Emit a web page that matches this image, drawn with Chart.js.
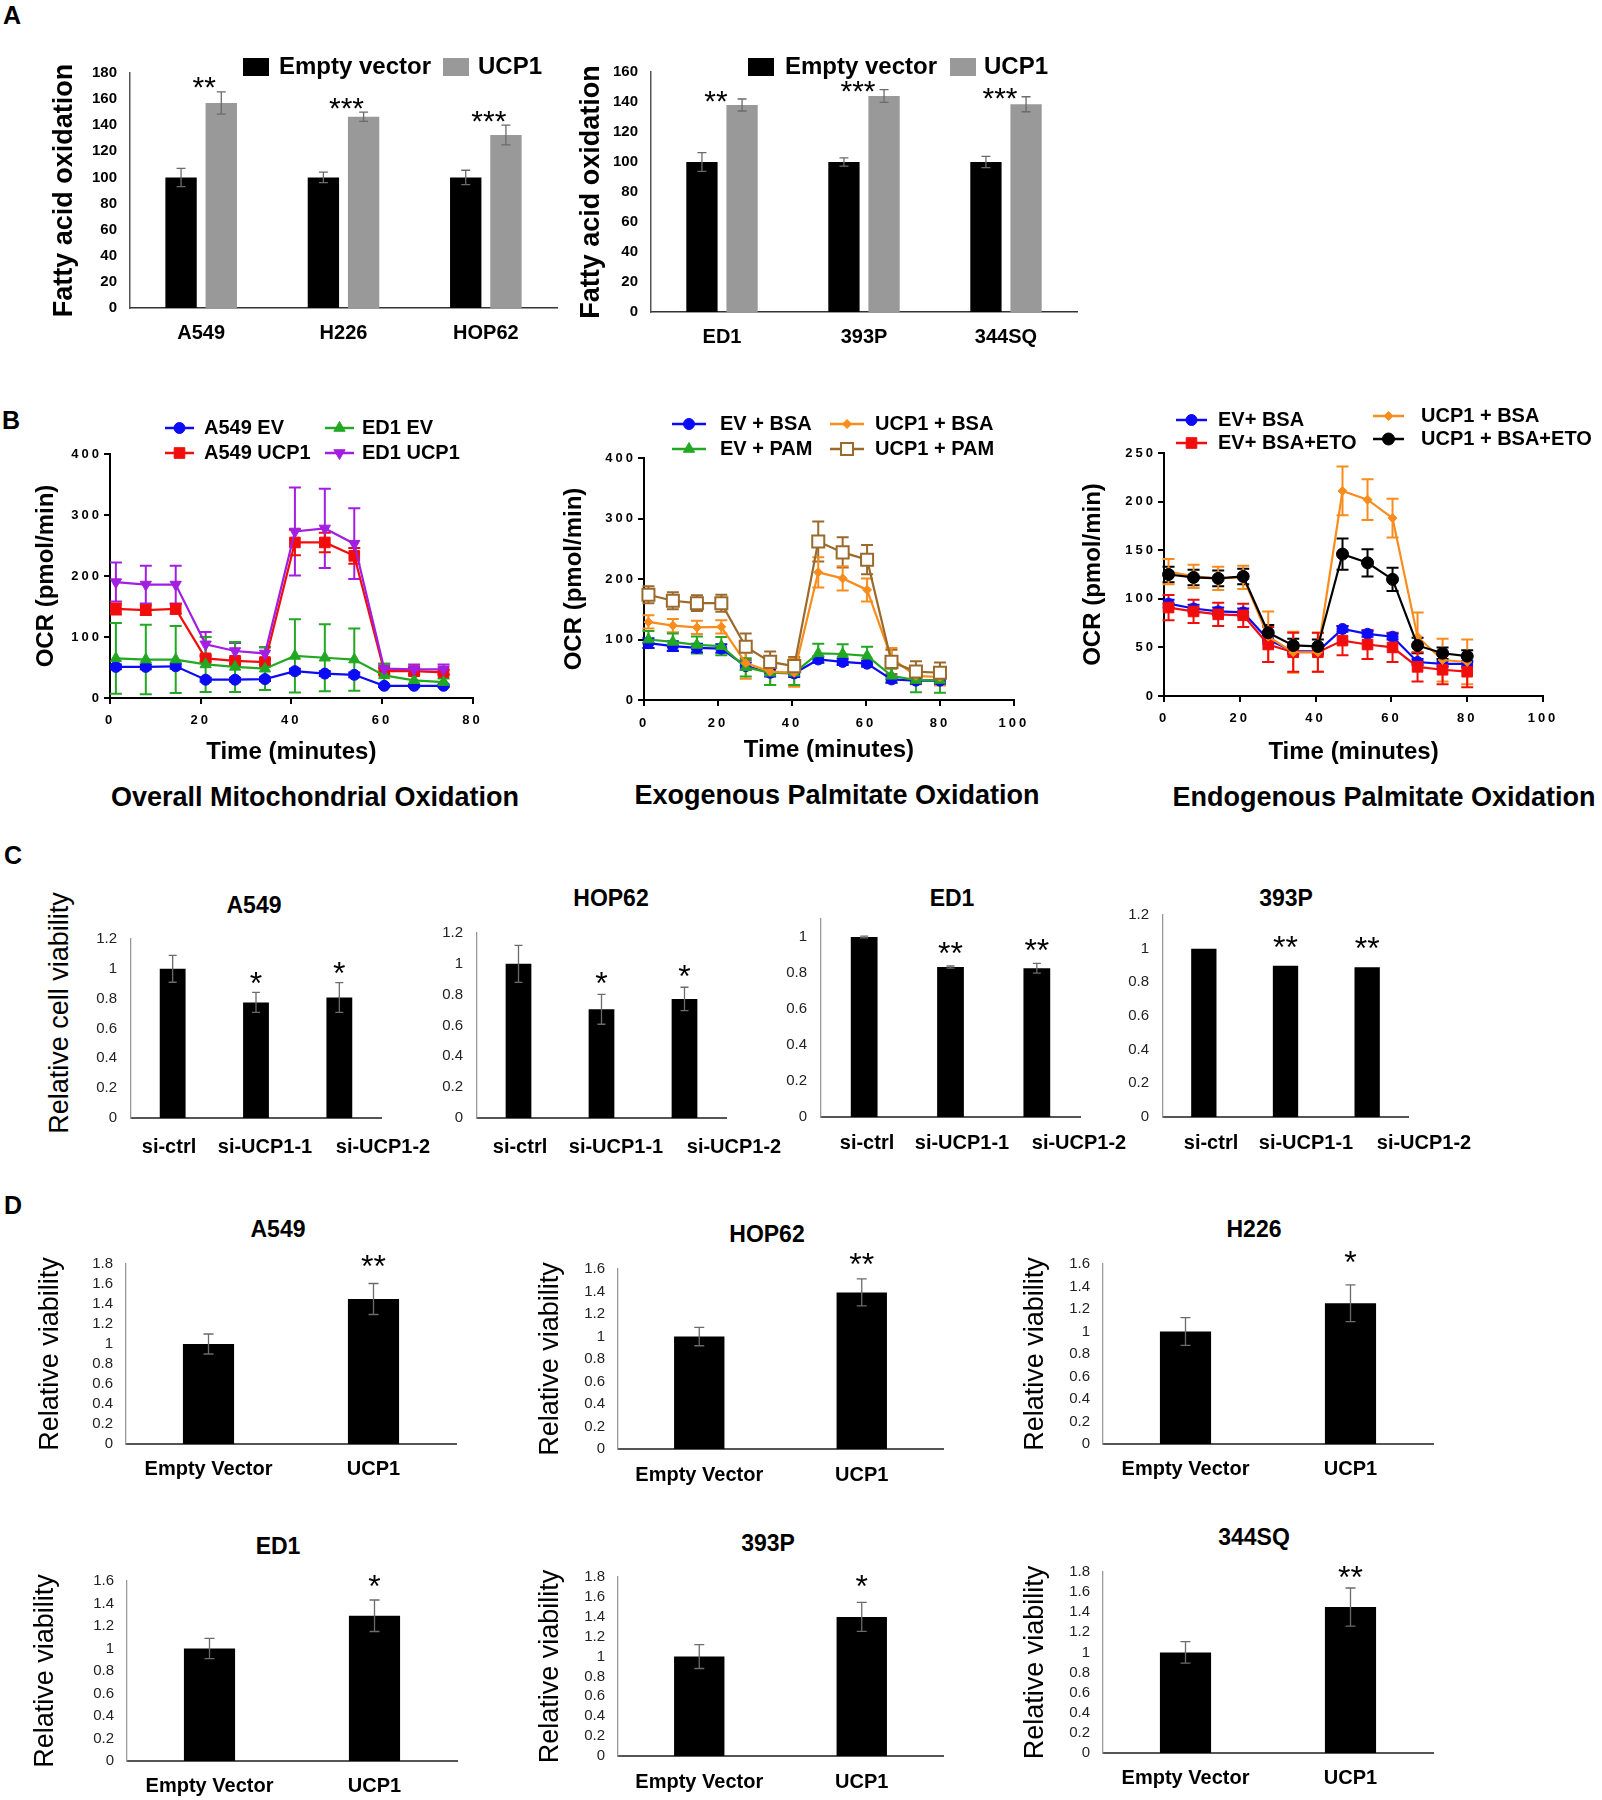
<!DOCTYPE html>
<html>
<head>
<meta charset="utf-8">
<title>UCP1 figure</title>
<script src="https://cdn.jsdelivr.net/npm/chart.js@4.4.1/dist/chart.umd.min.js"></script>
<style>
  html, body { margin: 0; padding: 0; background: #fff; }
  body { position: relative; width: 1602px; height: 1800px; overflow: hidden;
         font-family: 'Liberation Sans', Arial, Helvetica, sans-serif; color: #000; }
  .txt { position: absolute; white-space: nowrap; line-height: 1; font-weight: bold;
         transform: translate(-50%, -50%); }
  .rot { transform: translate(-50%, -50%) rotate(-90deg); font-weight: normal; }
</style>
</head>
<body>
<div class="txt" style="left:12px;top:15px;font-size:25px">A</div>
<div class="txt" style="left:11px;top:420px;font-size:25px">B</div>
<div class="txt" style="left:13px;top:855px;font-size:25px">C</div>
<div class="txt" style="left:13px;top:1205px;font-size:25px">D</div>

<div class="txt" style="left:315px;top:797px;font-size:27px">Overall Mitochondrial Oxidation</div>
<div class="txt" style="left:837px;top:795px;font-size:27px">Exogenous Palmitate Oxidation</div>
<div class="txt" style="left:1384px;top:797px;font-size:27px">Endogenous Palmitate Oxidation</div>

<div class="txt rot" style="left:59px;top:1013px;font-size:27px">Relative cell viability</div>
<div class="txt" style="left:254px;top:905px;font-size:23px">A549</div>
<div class="txt" style="left:611px;top:898px;font-size:23px">HOP62</div>
<div class="txt" style="left:952px;top:898px;font-size:23px">ED1</div>
<div class="txt" style="left:1286px;top:898px;font-size:23px">393P</div>

<div class="txt" style="left:278px;top:1229px;font-size:23px">A549</div>
<div class="txt" style="left:767px;top:1234px;font-size:23px">HOP62</div>
<div class="txt" style="left:1254px;top:1229px;font-size:23px">H226</div>
<div class="txt" style="left:278px;top:1546px;font-size:23px">ED1</div>
<div class="txt" style="left:768px;top:1543px;font-size:23px">393P</div>
<div class="txt" style="left:1254px;top:1537px;font-size:23px">344SQ</div>

<script>
const FONT = "'Liberation Sans', Arial, Helvetica, sans-serif";
Chart.defaults.font.family = FONT;
Chart.defaults.color = '#000';
Chart.defaults.plugins.legend.display = false;
Chart.defaults.plugins.tooltip.enabled = false;

// ---------- A: fatty acid oxidation ----------
const humanLines = ['A549', 'H226', 'HOP62'];
const humanEmptyFao = [100, 100, 100];
const humanEmptyFaoErr = [7, 4, 5.5];
const humanUcp1Fao = [157, 146.5, 132.5];
const humanUcp1FaoErr = [8.5, 3.5, 7.5];
const humanFaoStars = ['**', '***', '***'];

const mouseLines = ['ED1', '393P', '344SQ'];
const mouseEmptyFao = [100, 100, 100];
const mouseEmptyFaoErr = [6.3, 2.7, 3.8];
const mouseUcp1Fao = [138, 144, 138.5];
const mouseUcp1FaoErr = [4, 4.2, 5];
const mouseFaoStars = ['**', '***', '***'];

// ---------- B: OCR time courses (pmol/min) ----------
const mitoTimes = [1.3, 7.9, 14.5, 21.1, 27.6, 34.2, 40.8, 47.4, 53.9, 60.5, 67.1, 73.6];
const a549Ev = [51, 51, 52, 30, 30, 31, 44, 40, 38, 20, 20, 20];
const a549EvErr = [4, 4, 4, 3, 3, 3, 4, 4, 4, 2, 2, 2];
const a549Ucp1 = [146, 144, 146, 65, 61, 59, 255, 255, 233, 44, 44, 42];
const a549Ucp1Err = [9, 8, 8, 5, 5, 4, 21, 16, 13, 5, 5, 4];
const ed1Ev = [65, 63, 63, 55, 51, 48, 69, 66, 63, 37, 29, 26];
const ed1EvErr = [58, 57, 55, 45, 41, 35, 60, 55, 51, 19, 8, 6];
const ed1Ucp1 = [190, 186, 186, 88, 77, 73, 273, 278, 253, 48, 47, 47];
const ed1Ucp1Err = [32, 31, 31, 20, 13, 10, 72, 65, 58, 8, 8, 8];

const palmTimes = [1.2, 7.8, 14.3, 20.9, 27.5, 34.1, 40.6, 47.1, 53.7, 60.3, 66.9, 73.5, 80.0];
const exoEvBsa = [94, 89, 86, 85, 56, 45, 44, 67, 63, 60, 34, 32, 32];
const exoEvBsaErr = [8, 8, 7, 7, 6, 6, 6, 5, 5, 5, 5, 5, 5];
const exoEvPam = [100, 96, 91, 89, 54, 45, 45, 77, 76, 73, 40, 33, 33];
const exoEvPamErr = [14, 14, 14, 15, 15, 20, 20, 16, 16, 15, 12, 20, 21];
const exoUcp1Bsa = [129, 123, 120, 121, 61, 47, 45, 211, 201, 182, 69, 40, 38];
const exoUcp1BsaErr = [11, 11, 11, 11, 26, 22, 23, 25, 20, 19, 17, 14, 14];
const exoUcp1Pam = [174, 164, 160, 160, 88, 63, 56, 262, 244, 232, 63, 47, 45];
const exoUcp1PamErr = [14, 14, 13, 14, 22, 17, 15, 33, 25, 24, 20, 17, 17];

const endoEvBsa = [95, 90, 87, 86, 58, 46, 46, 69, 64, 61, 35, 33, 33];
const endoEvBsaErr = [4, 4, 4, 4, 4, 3, 3, 3, 3, 3, 3, 3, 3];
const endoEvEto = [91, 87, 84, 83, 53, 45, 45, 57, 53, 50, 30, 27, 25];
const endoEvEtoErr = [13, 12, 12, 12, 18, 20, 20, 15, 15, 15, 15, 15, 16];
const endoUcp1Bsa = [128, 123, 121, 122, 61, 45, 45, 211, 202, 183, 61, 37, 35];
const endoUcp1BsaErr = [13, 12, 12, 12, 26, 21, 20, 25, 21, 20, 25, 22, 23];
const endoUcp1Eto = [125, 122, 121, 123, 65, 52, 51, 146, 137, 120, 52, 44, 41];
const endoUcp1EtoErr = [8, 8, 8, 8, 8, 7, 7, 16, 14, 12, 8, 6, 6];

// ---------- C: siRNA knockdown viability ----------
const siLabels = ['si-ctrl', 'si-UCP1-1', 'si-UCP1-2'];
const siA549 = [1.0, 0.775, 0.808];
const siA549Err = [0.09, 0.067, 0.1];
const siA549Stars = ['', '*', '*'];
const siHop62 = [1.0, 0.705, 0.772];
const siHop62Err = [0.12, 0.097, 0.076];
const siHop62Stars = ['', '*', '*'];
const siEd1 = [1.0, 0.833, 0.826];
const siEd1Err = [0.005, 0.006, 0.027];
const siEd1Stars = ['', '**', '**'];
const si393p = [1.0, 0.899, 0.889];
const si393pErr = [0, 0, 0];
const si393pStars = ['', '**', '**'];

// ---------- D: UCP1 overexpression viability ----------
const vectorLabels = ['Empty Vector', 'UCP1'];
const oeA549 = [1.0, 1.45];
const oeA549Err = [0.1, 0.155];
const oeA549Stars = ['', '**'];
const oeHop62 = [1.0, 1.392];
const oeHop62Err = [0.082, 0.12];
const oeHop62Stars = ['', '**'];
const oeH226 = [1.0, 1.251];
const oeH226Err = [0.123, 0.163];
const oeH226Stars = ['', '*'];
const oeEd1 = [1.0, 1.291];
const oeEd1Err = [0.09, 0.14];
const oeEd1Stars = ['', '*'];
const oe393p = [1.0, 1.399];
const oe393pErr = [0.12, 0.145];
const oe393pStars = ['', '*'];
const oe344sq = [1.0, 1.451];
const oe344sqErr = [0.107, 0.19];
const oe344sqStars = ['', '**'];

const ERR_GREY = '#6b6b6b';
const fmt = v => String(+Number(v).toFixed(2));

// ---------- plugins ----------
function paintErrors(chart, opts) {
  const ctx = chart.ctx, ys = chart.scales.y;
  chart.data.datasets.forEach((ds, i) => {
    if (!ds.errors) return;
    const meta = chart.getDatasetMeta(i);
    ctx.save();
    ctx.strokeStyle = opts.color || ds.borderColor;
    ctx.lineWidth = opts.width;
    meta.data.forEach((el, j) => {
      const e = ds.errors[j];
      if (!e) return;
      const raw = ds.data[j];
      const v = typeof raw === 'object' ? raw.y : raw;
      const top = ys.getPixelForValue(v + e), bot = ys.getPixelForValue(v - e);
      const x = el.x, c = opts.cap;
      ctx.beginPath();
      ctx.moveTo(x, top); ctx.lineTo(x, bot);
      ctx.moveTo(x - c, top); ctx.lineTo(x + c, top);
      ctx.moveTo(x - c, bot); ctx.lineTo(x + c, bot);
      ctx.stroke();
    });
    ctx.restore();
  });
}
const errorBars = {
  id: 'errorBars',
  beforeDatasetsDraw(chart, args, opts) { if (opts.behind) paintErrors(chart, opts); },
  afterDatasetsDraw(chart, args, opts) { if (!opts.behind) paintErrors(chart, opts); }
};

const starMarks = {
  id: 'starMarks',
  afterDatasetsDraw(chart, args, opts) {
    if (!opts.marks) return;
    const ctx = chart.ctx, ds = chart.data.datasets[opts.ds];
    const ys = chart.scales.y, xs = chart.scales.x;
    ctx.save();
    ctx.font = opts.fontCss;
    ctx.fillStyle = '#000';
    ctx.textAlign = 'center';
    ctx.textBaseline = 'alphabetic';
    opts.marks.forEach((s, j) => {
      if (!s) return;
      const top = ys.getPixelForValue(ds.data[j] + (ds.errors ? ds.errors[j] : 0));
      const m = ctx.measureText(s);
      const cy = top - opts.gap;
      ctx.fillText(s, xs.getPixelForValue(j) + (opts.dx || 0),
        cy + (m.actualBoundingBoxAscent - m.actualBoundingBoxDescent) / 2);
    });
    ctx.restore();
  }
};

// category labels placed at page x positions (panel C has them spread wider than the bars)
const pageXLabels = {
  id: 'pageXLabels',
  afterDraw(chart, args, opts) {
    if (!opts.xs) return;
    const ctx = chart.ctx, ox = chart.canvas.offsetLeft, oy = chart.canvas.offsetTop;
    ctx.save();
    ctx.font = opts.fontCss;
    ctx.fillStyle = '#000';
    ctx.textAlign = 'center';
    ctx.textBaseline = 'middle';
    chart.data.labels.forEach((lab, j) => ctx.fillText(lab, opts.xs[j] - ox, opts.y - oy));
    ctx.restore();
  }
};

const keyLegend = {
  id: 'keyLegend',
  afterDraw(chart, args, opts) {
    if (!opts.items) return;
    const ctx = chart.ctx, ox = chart.canvas.offsetLeft, oy = chart.canvas.offsetTop;
    ctx.save();
    ctx.letterSpacing = '0px';
    ctx.font = opts.fontCss;
    ctx.textBaseline = 'middle';
    ctx.textAlign = 'left';
    opts.items.forEach(it => {
      const ds = chart.data.datasets[it.ds];
      const x = it.x - ox, y = it.y - oy;
      if (opts.kind === 'box') {
        ctx.fillStyle = ds.backgroundColor;
        ctx.fillRect(x, y - opts.bh / 2, opts.bw, opts.bh);
      } else {
        ctx.strokeStyle = ds.borderColor;
        ctx.lineWidth = 2.5;
        ctx.beginPath(); ctx.moveTo(x, y); ctx.lineTo(x + opts.len, y); ctx.stroke();
        ctx.fillStyle = ds.pointBackgroundColor;
        ctx.strokeStyle = ds.pointBorderColor;
        ctx.lineWidth = ds.pointBorderWidth;
        const pt = {pointStyle: ds.pointStyle, rotation: ds.pointRotation || 0,
                    radius: ds.pointRadius, borderWidth: ds.pointBorderWidth};
        if (Chart.helpers && Chart.helpers.drawPoint) {
          Chart.helpers.drawPoint(ctx, pt, x + opts.len / 2, y);
        } else {
          ctx.beginPath(); ctx.arc(x + opts.len / 2, y, ds.pointRadius, 0, Math.PI * 2); ctx.fill(); ctx.stroke();
        }
      }
      ctx.fillStyle = '#000';
      ctx.fillText(ds.label, it.tx - ox, y);
    });
    ctx.restore();
  }
};

// GraphPad-style spaced tick digits (tick labels are drawn after the datasets, z = 1)
const spacedTicks = {
  id: 'spacedTicks',
  afterDatasetsDraw(chart, args, opts) { if (opts.px) chart.ctx.letterSpacing = opts.px + 'px'; },
  afterDraw(chart) { chart.ctx.letterSpacing = '0px'; }
};

// ---------- placement helpers ----------
function mount(plot, margin) {
  const [l, t, r, b] = plot.map(Math.round);
  const [ml, mt, mr, mb] = margin;
  const W = r - l + ml + mr, H = b - t + mt + mb;
  const cv = document.createElement('canvas');
  cv.width = W; cv.height = H;
  cv.style.cssText = 'position:absolute;left:' + (l - ml) + 'px;top:' + (t - mt) + 'px;width:' + W + 'px;height:' + H + 'px';
  document.body.appendChild(cv);
  return {cv, l, t, r, b, ml, mt, mr, mb, left: l - ml, bottom: b + mb};
}

function draw(box, config) {
  const o = config.options;
  o.responsive = false;
  o.animation = false;
  o.devicePixelRatio = 1;
  o.layout = {padding: {left: 0, top: box.mt, right: box.mr, bottom: 0}};
  o.scales.x.afterFit = s => { s.height = box.mb; };
  o.scales.y.afterFit = s => { s.width = box.ml; };
  return new Chart(box.cv, config);
}

const yTitle = (box, text, size, cx, weight) => ({
  display: true, text, font: {size, weight, lineHeight: 1},
  padding: {top: cx - box.left - size / 2, bottom: 0}
});
const xTitle = (box, text, size, cy) => ({
  display: true, text, font: {size, weight: 'bold', lineHeight: 1},
  padding: {top: 0, bottom: box.bottom - cy - size / 2}
});

// ---------- panel builders ----------
function oxidationChart(plot, margin, cells, ev, evErr, ucp, ucpErr, marks, yMax, yTitleX, labelY, legendAt, starDx, starGap) {
  const box = mount(plot, margin);
  const bar = {barPercentage: 0.78, categoryPercentage: 0.565};
  return draw(box, {
    type: 'bar',
    data: {labels: cells, datasets: [
      Object.assign({label: 'Empty vector', data: ev, errors: evErr, backgroundColor: '#000'}, bar),
      Object.assign({label: 'UCP1', data: ucp, errors: ucpErr, backgroundColor: '#999999'}, bar)
    ]},
    options: {
      plugins: {
        errorBars: {color: ERR_GREY, width: 1.3, cap: 4.5},
        starMarks: {marks, ds: 1, dx: starDx, gap: starGap, fontCss: '30px ' + FONT},
        keyLegend: {kind: 'box', fontCss: 'bold 24px ' + FONT, bw: 26, bh: 18, items: legendAt}
      },
      scales: {
        x: {grid: {display: false, drawTicks: false}, border: {color: '#333', width: 1.5},
            ticks: {autoSkip: false, maxRotation: 0, padding: labelY - box.b - 12, font: {size: 20, weight: 'bold'}}},
        y: {min: 0, max: yMax, grid: {display: false, drawTicks: false}, border: {color: '#555', width: 1.5},
            ticks: {stepSize: 20, autoSkip: false, padding: 13, font: {size: 15, weight: 'bold'}},
            title: yTitle(box, 'Fatty acid oxidation', 27, yTitleX, 'bold')}
      }
    },
    plugins: [errorBars, starMarks, keyLegend]
  });
}

const ocrStyle = {
  blueCircle: {color: '#0b0bf5', marker: 'circle', radius: 5.5},
  redSquare: {color: '#f20d0d', marker: 'rect', radius: 7.5},
  greenTriangle: {color: '#22a822', marker: 'triangle', radius: 6.5},
  purpleDown: {color: '#a21ee0', marker: 'triangle', radius: 6.5, rot: 180},
  orangeDiamond: {color: '#f98c1c', marker: 'rectRot', radius: 4.5},
  brownOpenSquare: {color: '#9a6a2c', marker: 'rect', radius: 8.5, fill: '#ffffff'},
  blackCircle: {color: '#000000', marker: 'circle', radius: 6}
};

function ocrSet(label, times, values, errors, st) {
  return {
    label, data: times.map((t, i) => ({x: t, y: values[i]})), errors,
    borderColor: st.color, backgroundColor: st.color, borderWidth: 2.2, tension: 0, clip: false,
    pointStyle: st.marker, pointRadius: st.radius, pointRotation: st.rot || 0,
    pointBackgroundColor: st.fill || st.color, pointBorderColor: st.color,
    pointBorderWidth: st.fill ? 2 : 1
  };
}

function ocrChart(plot, margin, datasets, xMax, yMax, yStep, yTitleX, xTitleY, labelY, legendLen, legendAt) {
  const box = mount(plot, margin);
  const axisGrid = {display: true, drawOnChartArea: false, drawTicks: true, tickLength: 6, color: '#000', lineWidth: 2};
  return draw(box, {
    type: 'line',
    data: {datasets},
    options: {
      plugins: {
        errorBars: {behind: true, width: 2, cap: 6},
        keyLegend: {kind: 'line', fontCss: 'bold 20px ' + FONT, len: legendLen, items: legendAt},
        spacedTicks: {px: 3}
      },
      scales: {
        x: {type: 'linear', min: 0, max: xMax, grid: axisGrid, border: {color: '#000', width: 2},
            ticks: {stepSize: 20, autoSkip: false, z: 1, padding: labelY - box.b - 6 - 7.8, font: {size: 13, weight: 'bold'}},
            title: xTitle(box, 'Time (minutes)', 24, xTitleY)},
        y: {min: 0, max: yMax, grid: axisGrid, border: {color: '#000', width: 2},
            ticks: {stepSize: yStep, autoSkip: false, z: 1, padding: 2, font: {size: 13, weight: 'bold'}},
            title: yTitle(box, 'OCR (pmol/min)', 24, yTitleX, 'bold')}
      }
    },
    plugins: [errorBars, keyLegend, spacedTicks]
  });
}

function knockdownChart(plot, margin, values, errors, marks, yMax, labelXs, labelY, starGap) {
  const box = mount(plot, margin);
  return draw(box, {
    type: 'bar',
    data: {labels: siLabels, datasets: [{label: 'viability', data: values, errors, backgroundColor: '#000',
                                         barPercentage: 0.31, categoryPercentage: 1}]},
    options: {
      plugins: {
        errorBars: {color: ERR_GREY, width: 1.3, cap: 4},
        starMarks: {marks, ds: 0, dx: 0, gap: starGap, fontCss: '32px ' + FONT},
        pageXLabels: {xs: labelXs, y: labelY, fontCss: 'bold 20px ' + FONT}
      },
      scales: {
        x: {grid: {display: false, drawTicks: false}, border: {color: '#555', width: 2}, ticks: {display: false}},
        y: {min: 0, max: yMax, grid: {display: false, drawTicks: false}, border: {color: '#999', width: 1.3},
            ticks: {stepSize: 0.2, autoSkip: false, includeBounds: false, padding: 14, color: '#222', font: {size: 15}, callback: fmt}}
      }
    },
    plugins: [errorBars, starMarks, pageXLabels]
  });
}

function vectorChart(plot, margin, values, errors, marks, yMax, yTitleX, labelY, starGap) {
  const box = mount(plot, margin);
  return draw(box, {
    type: 'bar',
    data: {labels: vectorLabels, datasets: [{label: 'viability', data: values, errors, backgroundColor: '#000',
                                             barPercentage: 0.31, categoryPercentage: 1}]},
    options: {
      plugins: {
        errorBars: {color: ERR_GREY, width: 1.3, cap: 5},
        starMarks: {marks, ds: 0, dx: 0, gap: starGap, fontCss: '32px ' + FONT}
      },
      scales: {
        x: {grid: {display: false, drawTicks: false}, border: {color: '#555', width: 2},
            ticks: {autoSkip: false, maxRotation: 0, padding: labelY - box.b - 12, font: {size: 20, weight: 'bold'}}},
        y: {min: 0, max: yMax, grid: {display: false, drawTicks: false}, border: {color: '#999', width: 1.3},
            ticks: {stepSize: 0.2, autoSkip: false, padding: 13, color: '#222', font: {size: 15}, callback: fmt},
            title: yTitle(box, 'Relative viability', 27, yTitleX, 'normal')}
      }
    },
    plugins: [errorBars, starMarks]
  });
}

// ---------- A ----------
oxidationChart([130, 73, 557, 308], [90, 35, 8, 42], humanLines, humanEmptyFao, humanEmptyFaoErr,
  humanUcp1Fao, humanUcp1FaoErr, humanFaoStars, 180, 64.5, 333,
  [{ds: 0, x: 243, tx: 279, y: 67}, {ds: 1, x: 443, tx: 478, y: 67}], 3, 9);
oxidationChart([651, 72, 1077, 312], [81, 34, 8, 42], mouseLines, mouseEmptyFao, mouseEmptyFaoErr,
  mouseUcp1Fao, mouseUcp1FaoErr, mouseFaoStars, 160, 592, 337,
  [{ds: 0, x: 748, tx: 785, y: 67}, {ds: 1, x: 950, tx: 984, y: 67}], -6, 3);

// ---------- B ----------
ocrChart([110, 454, 476, 698], [85, 50, 12, 70], [
    ocrSet('ED1 UCP1', mitoTimes, ed1Ucp1, ed1Ucp1Err, ocrStyle.purpleDown),
    ocrSet('ED1 EV', mitoTimes, ed1Ev, ed1EvErr, ocrStyle.greenTriangle),
    ocrSet('A549 UCP1', mitoTimes, a549Ucp1, a549Ucp1Err, ocrStyle.redSquare),
    ocrSet('A549 EV', mitoTimes, a549Ev, a549EvErr, ocrStyle.blueCircle)
  ], 80, 400, 100, 46.7, 752, 720, 29,
  [{ds: 3, x: 165, tx: 204, y: 428}, {ds: 1, x: 325, tx: 362, y: 428},
   {ds: 2, x: 165, tx: 204, y: 453}, {ds: 0, x: 325, tx: 362, y: 453}]);

ocrChart([644, 458, 1022, 700], [89, 54, 12, 70], [
    ocrSet('UCP1 + PAM', palmTimes, exoUcp1Pam, exoUcp1PamErr, ocrStyle.brownOpenSquare),
    ocrSet('UCP1 + BSA', palmTimes, exoUcp1Bsa, exoUcp1BsaErr, ocrStyle.orangeDiamond),
    ocrSet('EV + PAM', palmTimes, exoEvPam, exoEvPamErr, ocrStyle.greenTriangle),
    ocrSet('EV + BSA', palmTimes, exoEvBsa, exoEvBsaErr, ocrStyle.blueCircle)
  ], 100, 400, 100, 574, 750, 723, 34,
  [{ds: 3, x: 672, tx: 720, y: 424}, {ds: 1, x: 830, tx: 875, y: 424},
   {ds: 2, x: 672, tx: 720, y: 449}, {ds: 0, x: 830, tx: 875, y: 449}]);

ocrChart([1164, 453, 1543, 696], [89, 53, 59, 70], [
    ocrSet('UCP1 + BSA+ETO', palmTimes, endoUcp1Eto, endoUcp1EtoErr, ocrStyle.blackCircle),
    ocrSet('UCP1 + BSA', palmTimes, endoUcp1Bsa, endoUcp1BsaErr, ocrStyle.orangeDiamond),
    ocrSet('EV+ BSA+ETO', palmTimes, endoEvEto, endoEvEtoErr, ocrStyle.redSquare),
    ocrSet('EV+ BSA', palmTimes, endoEvBsa, endoEvBsaErr, ocrStyle.blueCircle)
  ], 100, 250, 50, 1093, 752, 718, 31,
  [{ds: 3, x: 1176, tx: 1218, y: 420}, {ds: 2, x: 1176, tx: 1218, y: 443},
   {ds: 1, x: 1373, tx: 1421, y: 416}, {ds: 0, x: 1373, tx: 1421, y: 439}]);

// ---------- C ----------
knockdownChart([131, 939, 381, 1118], [50, 40, 56, 45], siA549, siA549Err, siA549Stars, 1.2, [169, 265, 383], 1147, 14.5);
knockdownChart([477, 933, 726, 1118], [50, 40, 64, 45], siHop62, siHop62Err, siHop62Stars, 1.2, [520, 616, 734], 1147, 16);
knockdownChart([821, 919, 1080, 1117], [50, 40, 55, 45], siEd1, siEd1Err, siEd1Stars, 1.1, [867, 962, 1079], 1143, 18);
knockdownChart([1163, 915, 1408, 1117], [50, 40, 72, 45], si393p, si393pErr, si393pStars, 1.2, [1211, 1306, 1424], 1143, 24);

// ---------- D ----------
vectorChart([126, 1264, 456, 1444], [96, 40, 10, 45], oeA549, oeA549Err, oeA549Stars, 1.8, 51, 1469, 23);
vectorChart([618, 1269, 943, 1449], [88, 40, 10, 45], oeHop62, oeHop62Err, oeHop62Stars, 1.6, 551, 1475, 20);
vectorChart([1103, 1264, 1433, 1444], [88, 40, 10, 45], oeH226, oeH226Err, oeH226Stars, 1.6, 1036, 1469, 28);
vectorChart([127, 1581, 457, 1761], [102, 40, 10, 45], oeEd1, oeEd1Err, oeEd1Stars, 1.6, 46, 1786, 19);
vectorChart([618, 1577, 943, 1756], [88, 40, 10, 45], oe393p, oe393pErr, oe393pStars, 1.8, 551, 1782, 21);
vectorChart([1103, 1572, 1433, 1753], [88, 40, 10, 45], oe344sq, oe344sqErr, oe344sqStars, 1.8, 1036, 1778, 16);
</script>
</body>
</html>
